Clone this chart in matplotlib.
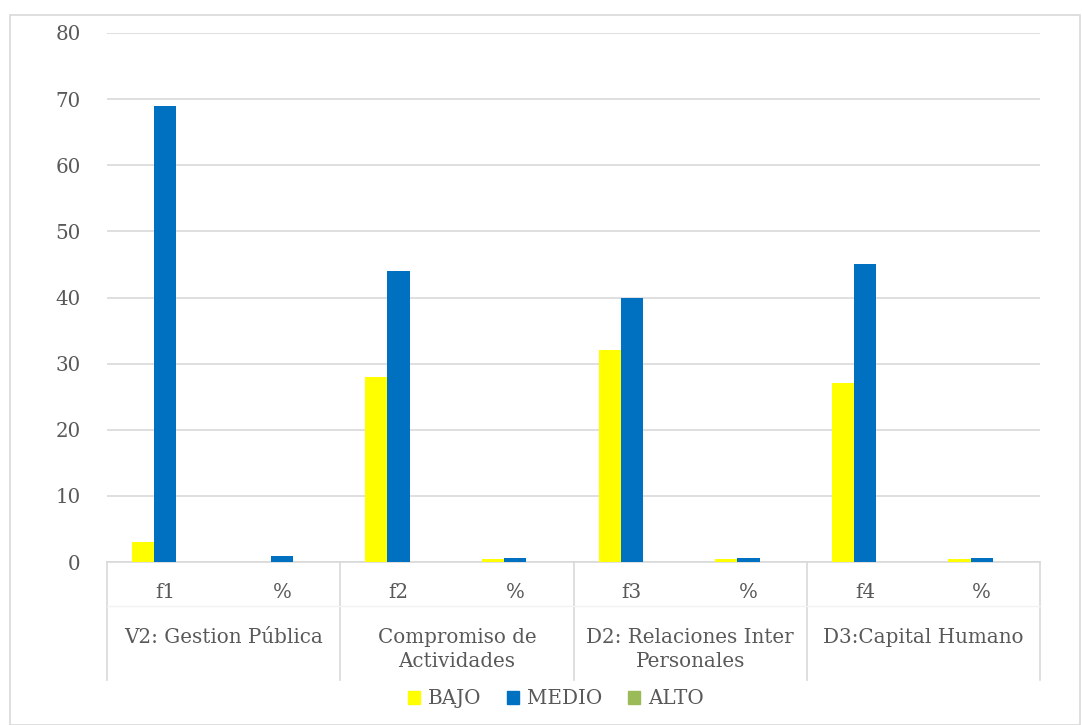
import matplotlib.pyplot as plt
from matplotlib.patches import Patch
import numpy as np

plt.rcParams['font.family'] = ['DejaVu Serif']

# data
groups = ['V2: Gestion Pública', 'Compromiso de\nActividades',
          'D2: Relaciones Inter\nPersonales', 'D3:Capital Humano']
leaves = ['f1', '%', 'f2', '%', 'f3', '%', 'f4', '%']
bajo = [3, 0.04, 28, 0.39, 32, 0.44, 27, 0.38]
medio = [69, 0.96, 44, 0.61, 40, 0.56, 45, 0.62]
alto = [0, 0, 0, 0, 0, 0, 0, 0]
series = ['BAJO', 'MEDIO', 'ALTO']
colors = ['#FFFF00', '#0070C0', '#9BBB59']

txt = '#595959'
grid = '#d9d9d9'
fs = 14.3

fig = plt.figure(figsize=(10.82, 7.25), dpi=100)
ax = fig.add_axes([107/1082, 1 - 562/725, (1040 - 107)/1082, (562 - 33)/725])

x = np.arange(len(leaves))
w = 0.19
for i, (vals, c) in enumerate(zip([bajo, medio, alto], colors)):
    ax.bar(x + (i - 1) * w, vals, width=w, color=c, zorder=3)

ax.set_xlim(-0.5, len(leaves) - 0.5)
ax.set_ylim(0, 80)
ax.set_yticks(range(0, 81, 10))
ax.yaxis.grid(True, color=grid, linewidth=1.2, zorder=0)
ax.tick_params(axis='y', length=0, pad=19, labelsize=fs, labelcolor=txt)
ax.set_xticks([])
for s in ['top', 'right', 'left']:
    ax.spines[s].set_visible(False)
ax.spines['bottom'].set_color(grid)
ax.spines['bottom'].set_linewidth(1.2)

# multi-level category axis
trans = ax.get_xaxis_transform()
ybot = -(680 - 562) / (562 - 33)
for k in range(len(groups) + 1):
    xv = -0.5 + 2 * k
    ax.plot([xv, xv], [0, ybot], transform=trans, color=grid, lw=1.2, clip_on=False)
ax.plot([-0.5, 7.5], [-(606 - 562) / 529] * 2, transform=trans, color='#f2f2f2',
        lw=1, clip_on=False)
for xi, lab in zip(x, leaves):
    ax.text(xi, -(592 - 562) / 529, lab, transform=trans, ha='center', va='center',
            fontsize=fs, color=txt)
for k, g in enumerate(groups):
    ax.text(2 * k + 0.5, -(628 - 562) / 529, g, transform=trans, ha='center', va='top',
            fontsize=fs, color=txt, linespacing=1.35)

handles = [Patch(color=c, label=s) for s, c in zip(series, colors)]
fig.legend(handles=handles, loc='center', bbox_to_anchor=(556/1082, 1 - 699/725),
           ncol=3, frameon=False, fontsize=fs, labelcolor=txt,
           handlelength=0.6, handleheight=0.6, handletextpad=0.4, columnspacing=1.3)

# chart border
fig.add_artist(plt.Rectangle((10/1082, 0), (1080 - 10)/1082, 1 - 15/725,
                             transform=fig.transFigure, fill=False,
                             edgecolor=grid, lw=1.2))

fig.savefig('out.png', dpi=100)
